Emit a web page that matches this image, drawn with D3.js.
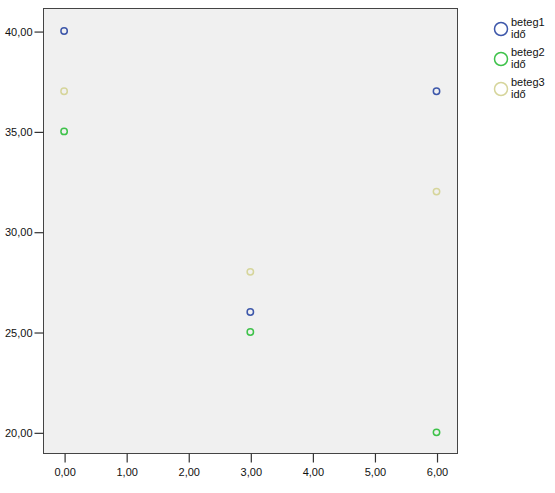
<!DOCTYPE html>
<html>
<head>
<meta charset="utf-8">
<script src="https://cdn.jsdelivr.net/npm/d3@7"></script>
<style>
  html, body { margin: 0; padding: 0; background: #fff; }
  svg { display: block; font-family: Arial, "Liberation Sans", sans-serif; }
</style>
</head>
<body>
<svg id="chart" width="555" height="493"></svg>
<script>
// ── Data ────────────────────────────────────────────────
const times      = [0, 3, 6];
const seriesNames = ['beteg1', 'beteg2', 'beteg3'];
const beteg1     = [40, 26, 37];
const beteg2     = [35, 25, 20];
const beteg3     = [37, 28, 32];
const xTicks     = [0, 1, 2, 3, 4, 5, 6];
const yTicks     = [20, 25, 30, 35, 40];
const colors     = ['#3d57aa', '#3ec24a', '#d6d59b'];

// ── Layout ──────────────────────────────────────────────
const plot = { left: 43, top: 8, right: 457, bottom: 453 };

const x = d3.scaleLinear().domain([-0.34, 6.33]).range([plot.left, plot.right]);
const y = d3.scaleLinear().domain([18.97, 41.15]).range([plot.bottom, plot.top]);

const svg = d3.select('#chart');
const fmt = v => v.toFixed(2).replace('.', ',');

// Plot background + frame
svg.append('rect')
  .attr('x', plot.left + 0.5).attr('y', plot.top + 0.5)
  .attr('width', plot.right - plot.left).attr('height', plot.bottom - plot.top)
  .attr('fill', '#f0f0f0').attr('stroke', '#444').attr('stroke-width', 1);

// Axes
const xAxis = svg.append('g')
  .attr('transform', `translate(0.5,${plot.bottom + 0.5})`)
  .call(d3.axisBottom(x).tickValues(xTicks).tickFormat(fmt).tickSize(9).tickPadding(6));
const yAxis = svg.append('g')
  .attr('transform', `translate(${plot.left + 0.5},0.5)`)
  .call(d3.axisLeft(y).tickValues(yTicks).tickFormat(fmt).tickSize(9).tickPadding(2));

[xAxis, yAxis].forEach(a => {
  a.select('.domain').remove();
  a.selectAll('line').attr('stroke', '#333').attr('stroke-width', 1.2);
  a.selectAll('text').attr('font-size', 11).attr('fill', '#111')
    .style('font-family', 'Arial, "Liberation Sans", sans-serif');
});

// Points
const series = [beteg1, beteg2, beteg3];
series.forEach((vals, si) => {
  svg.append('g').selectAll('circle')
    .data(vals.map((v, i) => ({ t: times[i], v })))
    .join('circle')
    .attr('cx', d => x(d.t)).attr('cy', d => y(d.v))
    .attr('r', 3.2)
    .attr('fill', 'none')
    .attr('stroke', colors[si]).attr('stroke-width', 1.5);
});

// Legend
const legend = svg.append('g').attr('transform', 'translate(501,29)');
seriesNames.forEach((name, i) => {
  const item = legend.append('g').attr('transform', `translate(0,${i * 30})`);
  item.append('circle')
    .attr('r', 6.5).attr('fill', 'none')
    .attr('stroke', colors[i]).attr('stroke-width', 1.5);
  item.append('text')
    .attr('x', 10).attr('y', -3)
    .attr('font-size', 11).attr('fill', '#111')
    .text(name);
  item.append('text')
    .attr('x', 10).attr('y', 9)
    .attr('font-size', 11).attr('fill', '#111')
    .text('idő');
});
</script>
</body>
</html>
